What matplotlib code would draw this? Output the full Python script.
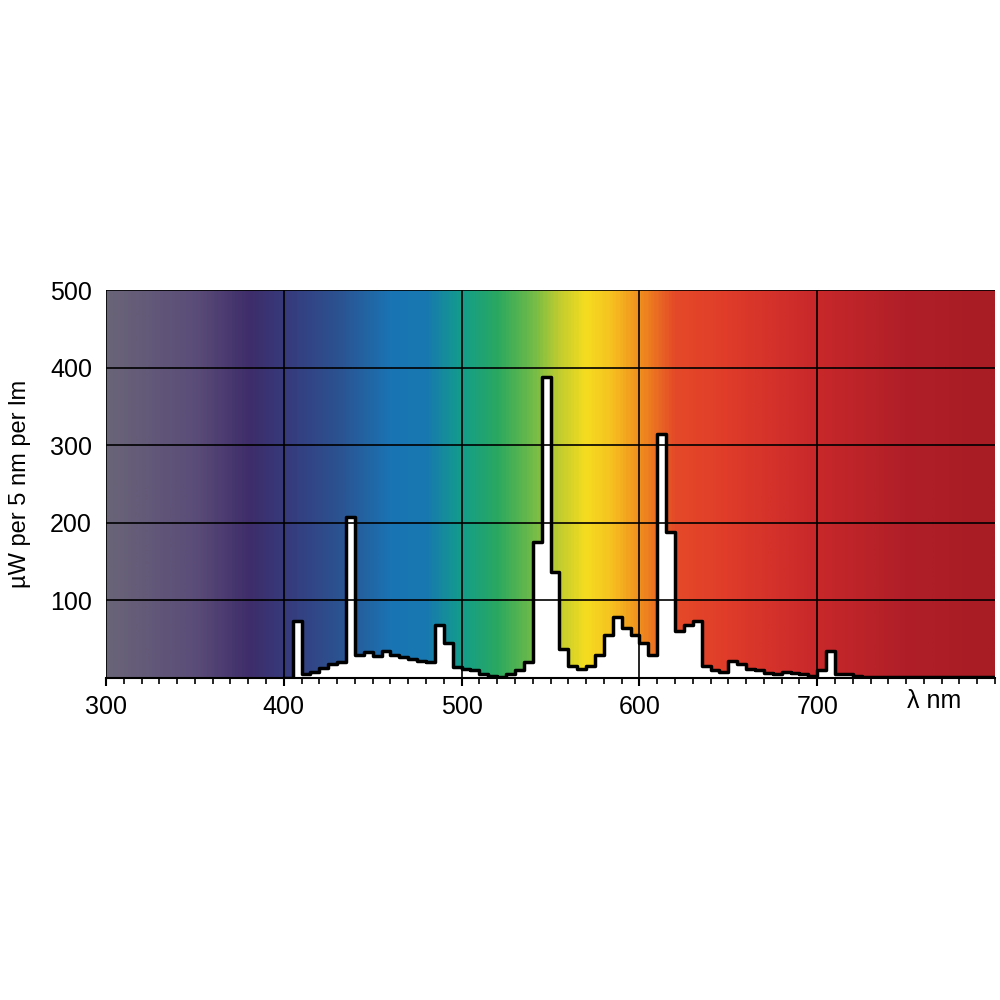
import numpy as np
import matplotlib.pyplot as plt
from matplotlib.colors import LinearSegmentedColormap

plt.rcParams['font.family'] = ['Liberation Sans', 'DejaVu Sans']

# spectrum, 5 nm bins starting at 400 nm
bin_start = 400
values = [0, 73, 5, 8, 13, 18, 20, 208, 30, 33, 28, 35, 30, 27, 25, 22, 20, 68, 45, 14,
          12, 10, 5, 2, 1, 5, 10, 20, 175, 388, 137, 38, 15, 12, 15, 30, 55, 78, 65, 55,
          45, 30, 315, 188, 60, 68, 73, 15, 10, 8, 22, 18, 12, 10, 7, 5, 8, 7, 5, 3,
          10, 35, 5, 5, 2, 1, 1, 1, 1, 1, 1, 1, 1, 1, 1, 1, 1, 1, 1, 1]

grad_pos = [300, 350, 380, 400, 430, 460, 480, 500, 520, 540, 555, 570, 585, 600, 620, 650, 700, 750, 800]
grad_col = ['#6a6478', '#5a4c78', '#3e2d6a', '#363a7c', '#2c5290', '#1a74b4', '#1878b0', '#139e8a',
            '#2aa860', '#70bb48', '#c0cc30', '#f5dd20', '#f6c020', '#f0901e', '#e44a28', '#e03c2a',
            '#c8282a', '#b01f28', '#a81c24']
cmap = LinearSegmentedColormap.from_list('spec', [((p - 300) / 500, c) for p, c in zip(grad_pos, grad_col)])

fig = plt.figure(figsize=(10, 10), dpi=100)
ax = fig.add_axes([0.106, 0.322, 0.889, 0.388])
ax.imshow(np.linspace(0, 1, 600)[None, :], aspect='auto', cmap=cmap,
          extent=[300, 800, 0, 500], zorder=0)

edges = bin_start + 5 * np.arange(len(values) + 1)
ys = np.array(values + [values[-1]])
ax.fill_between(edges, ys, step='post', color='white', zorder=2)
ax.step(edges, ys, where='post', color='black', lw=2.5, zorder=3)

ax.set_xlim(300, 800)
ax.set_ylim(0, 500)
ax.set_xticks([300, 400, 500, 600, 700])
ax.set_xticks(np.arange(300, 801, 10), minor=True)
ax.set_yticks([100, 200, 300, 400, 500])
ax.grid(True, color='black', lw=1.2, zorder=1)
ax.set_axisbelow(False)
for s in ['top', 'right', 'left']:
    ax.spines[s].set_visible(False)
ax.spines['bottom'].set_linewidth(1.5)
ax.tick_params(axis='x', which='major', length=6, width=1.5, labelsize=18, direction='out', pad=6)
ax.tick_params(axis='x', which='minor', length=4, width=1.2, direction='out')
ax.tick_params(axis='y', length=0, labelsize=18, pad=10)
ax.set_ylabel('µW per 5 nm per lm', fontsize=17, labelpad=14)
ax.text(766, -14, 'λ nm', fontsize=18, va='top', ha='center')
fig.savefig('out.png', dpi=100, facecolor='white')
